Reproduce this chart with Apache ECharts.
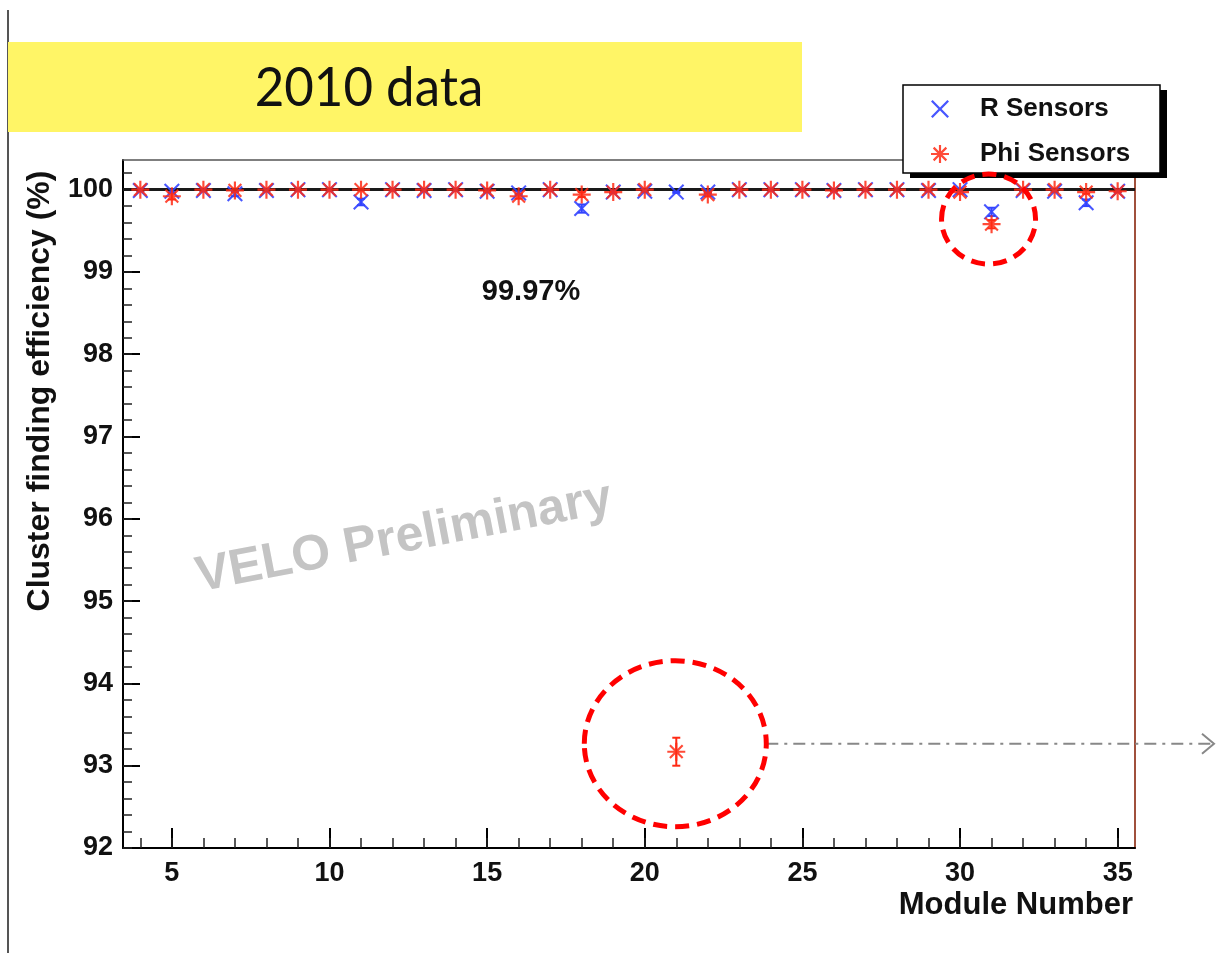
<!DOCTYPE html>
<html>
<head>
<meta charset="utf-8">
<script src="https://cdn.jsdelivr.net/npm/echarts@6/dist/echarts.min.js"></script>
<style>
  html, body { margin: 0; padding: 0; background: #ffffff; }
  #chart { width: 1218px; height: 953px; }
</style>
</head>
<body>
<div id="chart"></div>
<script>
// VELO cluster finding efficiency per module, 2010 data
const modules = [4, 5, 6, 7, 8, 9, 10, 11, 12, 13, 14, 15, 16, 17, 18, 19,
                 20, 21, 22, 23, 24, 25, 26, 27, 28, 29, 30, 31, 32, 33, 34, 35];
const rEff = [99.99, 99.98, 99.99, 99.95, 99.99, 100.0, 100.0, 99.85, 100.0, 99.99, 100.0, 99.98, 99.96, 100.0, 99.77, 99.97,
              99.98, 99.97, 99.97, 100.0, 100.0, 100.0, 99.99, 100.0, 100.0, 99.99, 100.0, 99.73, 99.99, 99.98, 99.84, 99.98];
const rErr = [0.01, 0.01, 0.01, 0.03, 0.01, 0.01, 0.01, 0.04, 0.01, 0.01, 0.01, 0.01, 0.02, 0.01, 0.05, 0.01,
              0.01, 0.01, 0.01, 0.01, 0.01, 0.01, 0.01, 0.01, 0.01, 0.01, 0.01, 0.05, 0.01, 0.01, 0.04, 0.01];
const phiEff = [100.0, 99.92, 100.0, 99.99, 100.0, 100.0, 100.0, 100.0, 100.0, 100.0, 100.0, 99.99, 99.92, 100.0, 99.94, 99.97,
                100.0, 93.17, 99.94, 100.0, 100.0, 100.0, 99.99, 100.0, 100.0, 100.0, 99.97, 99.58, 100.0, 100.0, 99.97, 99.98];
const phiErr = [0.01, 0.04, 0.01, 0.02, 0.01, 0.01, 0.01, 0.01, 0.01, 0.01, 0.01, 0.01, 0.03, 0.01, 0.03, 0.01,
                0.01, 0.17, 0.02, 0.01, 0.01, 0.01, 0.01, 0.01, 0.01, 0.01, 0.02, 0.05, 0.01, 0.01, 0.02, 0.01];

const xTickLabels = [5, 10, 15, 20, 25, 30, 35];
const yTickLabels = [92, 93, 94, 95, 96, 97, 98, 99, 100];
const seriesNames = ['R Sensors', 'Phi Sensors'];
const meanLabel = '99.97%';
const flagModules = [21, 31];   // modules ringed in red

const X_MIN = 3.45, X_MAX = 35.55, Y_MIN = 92, Y_MAX = 100.36;

// minor tick positions: every module on x, every 0.2 % on y
const xMinorTicks = [];
for (let m = 4; m <= 35; m++) xMinorTicks.push(m);
const yMinorTicks = [];
for (let k = 0; k <= 41; k++) yMinorTicks.push(+(92 + k * 0.2).toFixed(1));

// marker shapes: ROOT style "x" and "*"
const CROSS = 'path://M0,0.9L0.9,0L5,4.1L9.1,0L10,0.9L5.9,5L10,9.1L9.1,10L5,5.9L0.9,10L0,9.1L4.1,5Z';
const STAR = 'path://M4.4,0L5.6,0L5.6,10L4.4,10Z M0,4.4L10,4.4L10,5.6L0,5.6Z ' +
             'M1.04,1.88L1.88,1.04L8.96,8.12L8.12,8.96Z M8.12,1.04L8.96,1.88L1.88,8.96L1.04,8.12Z';

const BLUE = '#3344ff';
const RED = '#ff2a14';
const FONT = '"Liberation Sans", Arial, sans-serif';

const rPoints = modules.map((m, i) => [m, rEff[i]]);
const phiPoints = modules.map((m, i) => [m, phiEff[i]]);
const rBars = modules.map((m, i) => [m, rEff[i], rErr[i]]);
const phiBars = modules.map((m, i) => [m, phiEff[i], phiErr[i]]);

function errorBars(color) {
  return function (params, api) {
    const x = api.value(0), v = api.value(1), e = api.value(2);
    const top = api.coord([x, v + e]);
    const bot = api.coord([x, v - e]);
    const cap = 4;
    const st = { stroke: color, lineWidth: 2 };
    return {
      type: 'group',
      children: [
        { type: 'line', shape: { x1: top[0], y1: top[1], x2: bot[0], y2: bot[1] }, style: st },
        { type: 'line', shape: { x1: top[0] - cap, y1: top[1], x2: top[0] + cap, y2: top[1] }, style: st },
        { type: 'line', shape: { x1: bot[0] - cap, y1: bot[1], x2: bot[0] + cap, y2: bot[1] }, style: st }
      ]
    };
  };
}

const chart = echarts.init(document.getElementById('chart'), null, { renderer: 'canvas' });

// legend frame with a solid drop shadow, drawn under the legend entries
const LEGEND_BOX = { x: 903, y: 85, width: 257, height: 88 };

const hidden = { show: false };
chart.setOption({
  animation: false,
  backgroundColor: '#ffffff',
  grid: { left: 123, top: 160, right: 83, bottom: 105, containLabel: false },
  legend: {
    orient: 'vertical',
    left: LEGEND_BOX.x,
    top: LEGEND_BOX.y,
    padding: [9, 23, 8, 28],
    itemGap: 15,
    itemWidth: 18,
    itemHeight: 18,
    backgroundColor: 'transparent',
    borderWidth: 0,
    selectedMode: false,
    textStyle: { fontFamily: FONT, fontWeight: 'bold', fontSize: 26, color: '#111', lineHeight: 30, padding: [0, 0, 0, 26] },
    data: [
      { name: seriesNames[0], icon: CROSS, itemStyle: { color: BLUE } },
      { name: seriesNames[1], icon: STAR, itemStyle: { color: RED } }
    ],
    z: 20
  },
  xAxis: [
    {
      type: 'value', min: X_MIN, max: X_MAX, position: 'bottom',
      axisLine: { show: true, onZero: false, lineStyle: { color: '#000', width: 2 } },
      axisTick: { show: true, inside: true, length: 20, customValues: xTickLabels, lineStyle: { color: '#000', width: 2 } },
      axisLabel: { customValues: xTickLabels, margin: 12, fontFamily: FONT, fontWeight: 'bold', fontSize: 27, color: '#111' },
      splitLine: hidden
    },
    {
      type: 'value', min: X_MIN, max: X_MAX, position: 'bottom',
      axisLine: hidden,
      axisTick: { show: true, inside: true, length: 10, customValues: xMinorTicks, lineStyle: { color: '#222', width: 1.5 } },
      axisLabel: hidden, splitLine: hidden
    },
    {
      type: 'value', min: X_MIN, max: X_MAX, position: 'top',
      axisLine: { show: true, onZero: false, lineStyle: { color: '#555', width: 1.5 } },
      axisTick: hidden, axisLabel: hidden, splitLine: hidden
    }
  ],
  yAxis: [
    {
      type: 'value', min: Y_MIN, max: Y_MAX, position: 'left',
      axisLine: { show: true, onZero: false, lineStyle: { color: '#000', width: 2 } },
      axisTick: { show: true, inside: true, length: 17, customValues: yTickLabels, lineStyle: { color: '#000', width: 2 } },
      axisLabel: { customValues: yTickLabels, margin: 10, fontFamily: FONT, fontWeight: 'bold', fontSize: 27, color: '#111' },
      splitLine: hidden
    },
    {
      type: 'value', min: Y_MIN, max: Y_MAX, position: 'left',
      axisLine: hidden,
      axisTick: { show: true, inside: true, length: 9, customValues: yMinorTicks, lineStyle: { color: '#222', width: 1.5 } },
      axisLabel: hidden, splitLine: hidden
    },
    {
      type: 'value', min: Y_MIN, max: Y_MAX, position: 'right',
      axisLine: { show: true, onZero: false, lineStyle: { color: '#a0503c', width: 2 } },
      axisTick: hidden, axisLabel: hidden, splitLine: hidden
    }
  ],
  series: [
    {
      name: 'R errors', type: 'custom', xAxisIndex: 0, yAxisIndex: 0,
      data: rBars, encode: { x: 0, y: 1 }, renderItem: errorBars(BLUE), z: 3, silent: true,
      markLine: {
        silent: true, symbol: 'none', animation: false,
        label: { show: false },
        lineStyle: { color: '#1a1a1a', width: 3, type: 'solid' },
        data: [{ yAxis: 100 }]
      }
    },
    {
      name: 'Phi errors', type: 'custom', xAxisIndex: 0, yAxisIndex: 0,
      data: phiBars, encode: { x: 0, y: 1 }, renderItem: errorBars(RED), z: 4, silent: true
    },
    {
      name: seriesNames[0], type: 'scatter', xAxisIndex: 0, yAxisIndex: 0,
      data: rPoints, symbol: CROSS, symbolSize: 16,
      itemStyle: { color: BLUE, opacity: 0.9 }, z: 5
    },
    {
      name: seriesNames[1], type: 'scatter', xAxisIndex: 0, yAxisIndex: 0,
      data: phiPoints, symbol: STAR, symbolSize: 18,
      itemStyle: { color: RED, opacity: 0.85 }, z: 6
    }
  ]
});

// annotations placed from the plotted data positions
const idxA = modules.indexOf(flagModules[0]);
const idxB = modules.indexOf(flagModules[1]);
const pA = chart.convertToPixel({ seriesIndex: 3 }, [modules[idxA], phiEff[idxA]]);
const pBr = chart.convertToPixel({ seriesIndex: 2 }, [modules[idxB], rEff[idxB]]);
const pBp = chart.convertToPixel({ seriesIndex: 3 }, [modules[idxB], phiEff[idxB]]);
const bigC = { cx: pA[0] - 1, cy: pA[1] - 8, rx: 91, ry: 83 };
const smallC = { cx: pBr[0] - 3, cy: (pBr[1] + pBp[1]) / 2 + 1, rx: 47, ry: 45 };
const dashedRed = { fill: 'none', stroke: '#ff0000', lineWidth: 5, lineDash: [14, 8] };

chart.setOption({
  graphic: [
    // page edge rule and heading banner
    { type: 'line', shape: { x1: 8, y1: 10, x2: 8, y2: 953 }, style: { stroke: '#555', lineWidth: 2 }, z: 1 },
    { type: 'rect', shape: { x: 8, y: 42, width: 794, height: 90 }, style: { fill: '#fff566' }, z: 1 },
    { type: 'text', x: 369, y: 89, scaleY: 1.05, style: { text: '2010 data', font: 'normal 51px Lato, "Open Sans", sans-serif', fill: '#111', align: 'center', verticalAlign: 'middle' }, z: 2 },
    // legend frame and its shadow
    { type: 'rect', shape: { x: LEGEND_BOX.x + 7, y: LEGEND_BOX.y + 5, width: LEGEND_BOX.width, height: LEGEND_BOX.height }, style: { fill: '#000' }, z: 15 },
    { type: 'rect', shape: LEGEND_BOX, style: { fill: '#fff', stroke: '#000', lineWidth: 1.5 }, z: 16 },
    // axis titles
    { type: 'text', x: 40, y: 391, rotation: Math.PI / 2, style: { text: 'Cluster finding efficiency (%)', font: 'bold 32px ' + FONT, fill: '#111', align: 'center', verticalAlign: 'middle' }, z: 5 },
    { type: 'text', x: 1133, y: 905, style: { text: 'Module Number', font: 'bold 31px ' + FONT, fill: '#111', align: 'right', verticalAlign: 'middle' }, z: 5 },
    // mean efficiency and watermark
    { type: 'text', x: 531, y: 292, style: { text: meanLabel, font: 'bold 29px ' + FONT, fill: '#111', align: 'center', verticalAlign: 'middle' }, z: 5 },
    { type: 'text', x: 404, y: 538, rotation: 0.19, style: { text: 'VELO Preliminary', font: 'bold 50px ' + FONT, fill: '#c4c4c4', align: 'center', verticalAlign: 'middle' }, z: 1 },
    // dashed red rings around the low modules, drawn over the legend shadow
    { type: 'ellipse', shape: bigC, style: dashedRed, z: 30 },
    { type: 'ellipse', shape: smallC, style: dashedRed, z: 30 },
    // dash-dot pointer to the right
    { type: 'line', shape: { x1: bigC.cx + bigC.rx, y1: bigC.cy, x2: 1214, y2: bigC.cy }, style: { stroke: '#888', lineWidth: 2, lineDash: [12, 6, 3, 6] }, z: 10 },
    { type: 'polyline', shape: { points: [[1202, bigC.cy - 10], [1214, bigC.cy], [1202, bigC.cy + 10]] }, style: { stroke: '#888', lineWidth: 2, fill: 'none' }, z: 10 }
  ]
});
</script>
</body>
</html>
